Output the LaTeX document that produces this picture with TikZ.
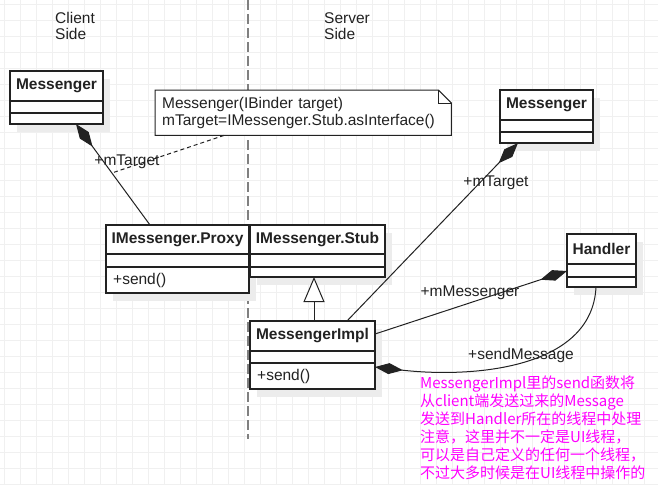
\documentclass[tikz,border=0pt]{standalone}
\usepackage{fontspec}
\setmainfont{Liberation Sans}
\newfontfamily\cjk{Noto Sans CJK SC}
\usetikzlibrary{arrows.meta,calc}
\definecolor{ink}{HTML}{222222}
\definecolor{remarkc}{HTML}{FF00FF}
\definecolor{gridc}{HTML}{F0F0F0}
\definecolor{shadowc}{HTML}{ECECEC}
\definecolor{sidegray}{HTML}{808080}

\newcommand\umlshadow[4]{\fill[shadowc] (#1+7,#2+8) rectangle (#3+7,#4+8);}
\newcommand\umlclass[8]{%
  \node[classbox, anchor=north west, minimum width={(#4-#2)*1pt}, minimum height={(#5-#3)*1pt}] (#1) at (#2,#3) {};
  \draw[boxline] (#2,#6) -- (#4,#6) (#2,#7) -- (#4,#7);
  \node[classname] (#1-name) at ({(#2+#4)/2},{(#3+#6)/2}) {#8};
}

\begin{document}
\begin{tikzpicture}[x=1pt,y=-1pt,
  boxline/.style={draw=ink, line width=1.1pt},
  classbox/.style={boxline, fill=white, rectangle, inner sep=0pt, outer sep=0pt},
  classname/.style={font=\fontsize{15.5}{16}\selectfont\bfseries, text=ink, inner sep=0pt},
  member/.style={font=\fontsize{15.5}{16}\selectfont, text=ink, inner sep=0pt, anchor=west},
  lbl/.style={font=\fontsize{15.5}{16}\selectfont, text=ink, inner sep=0pt},
  sidetext/.style={font=\fontsize{15.5}{16}\selectfont, text=ink, inner sep=0pt, anchor=north west, align=left},
  comp/.style={draw=ink, line width=1pt, -{Diamond[length=28pt,width=11pt,fill=ink]}},
  inherit/.style={draw=ink, line width=1pt, -{Triangle[length=25pt,width=21pt,fill=white]}},
  notelink/.style={draw=ink, line width=1pt, dash pattern=on 4pt off 3pt},
  sideline/.style={draw=sidegray, line width=1.6pt, dash pattern=on 10pt off 4pt},
  gridline/.style={draw=gridc, line width=0.9pt}
]
\useasboundingbox (0,0) rectangle (658,485);
\fill[white] (0,0) rectangle (658,485);
\foreach \gx in {4,20,...,654} \draw[gridline] (\gx,0) -- (\gx,485);
\foreach \gy in {4,20,...,484} \draw[gridline] (0,\gy) -- (658,\gy);

% side labels and separator
\node[sidetext] (client) at (55,12) {Client\\Side};
\node[sidetext] (server) at (324,12) {Server\\Side};
\draw[sideline] (248,0) -- (248,439);

% shadows
\umlshadow{10}{71}{103}{124}
\umlshadow{106}{225}{249}{293}
\umlshadow{250}{225}{385}{277}
\umlshadow{250}{321}{375}{389}
\umlshadow{500}{90}{593}{143}
\umlshadow{567}{234}{636}{287}

% classes
\umlclass{cm}{10}{71}{103}{124}{101}{113}{Messenger}
\umlclass{proxy}{106}{225}{249}{293}{254}{267}{IMessenger.Proxy}
\umlclass{stub}{250}{225}{385}{277}{254}{267}{IMessenger.Stub}
\umlclass{impl}{250}{321}{375}{389}{351}{363}{MessengerImpl}
\umlclass{sm}{500}{90}{593}{143}{120}{132}{Messenger}
\umlclass{handler}{567}{234}{636}{287}{264}{277}{Handler}
\node[member] (proxy-send) at (113,280) {+send()};
\node[member] (impl-send) at (257,376) {+send()};

% note
\fill[white] (155,90) -- (438,90) -- (451,103) -- (451,135) -- (155,135) -- cycle;
\node[anchor=north west, inner sep=0pt, minimum width=296pt, minimum height=45pt, text width=282pt, align=left,
      font=\fontsize{15.5}{17}\selectfont, text=ink] (note) at (155,90)
  {Messenger(IBinder target)\\mTarget=IMessenger.Stub.asInterface()};
\draw[boxline, line width=1pt] (note.north west) -- ($(note.north east)+(-13,0)$) -- ($(note.north east)+(0,13)$)
  -- (note.south east) -- (note.south west) -- cycle;
\draw[boxline, line width=1pt] ($(note.north east)+(-13,0)$) -- ($(note.north east)+(-13,13)$) -- ($(note.north east)+(0,13)$);

% connectors
\draw[comp] ($(proxy.north west)+(44,0)$) -- coordinate[pos=0.515] (noteend) ($(cm.south west)+(66,0)$);
\draw[notelink] ($(note.south west)+(69,0)$) -- (noteend);
\draw[comp] ($(impl.north west)+(97,0)$) -- ($(sm.south west)+(18,0)$);
\draw[inherit] ($(impl.north west)+(64,0)$) -- ($(stub.south west)+(64,0)$);
\draw[comp] ($(impl.north east)+(0,13)$) -- ($(handler.north west)+(0,37)$);
\draw[comp] ($(handler.south west)+(29,0)$) .. controls (592,370) and (470,378) .. ($(impl.north east)+(0,46)$);

% connector labels
\node[lbl] (lblcm) at (127,162) {+mTarget};
\node[lbl] (lblsm) at (496,183) {+mTarget};
\node[lbl] (lblmm) at (470,293) {+mMessenger};
\node[lbl] (lblsend) at (521,355) {+sendMessage};

% remark
\node[anchor=north west, inner sep=0pt, align=left, text=remarkc, font=\cjk\fontsize{15}{18}\selectfont] (remark) at (420,376)
  {MessengerImpl里的send函数将\\从client端发送过来的Message\\发送到Handler所在的线程中处理\\注意，这里并不一定是UI线程，\\可以是自己定义的任何一个线程，\\不过大多时候是在UI线程中操作的};
\end{tikzpicture}
\end{document}
